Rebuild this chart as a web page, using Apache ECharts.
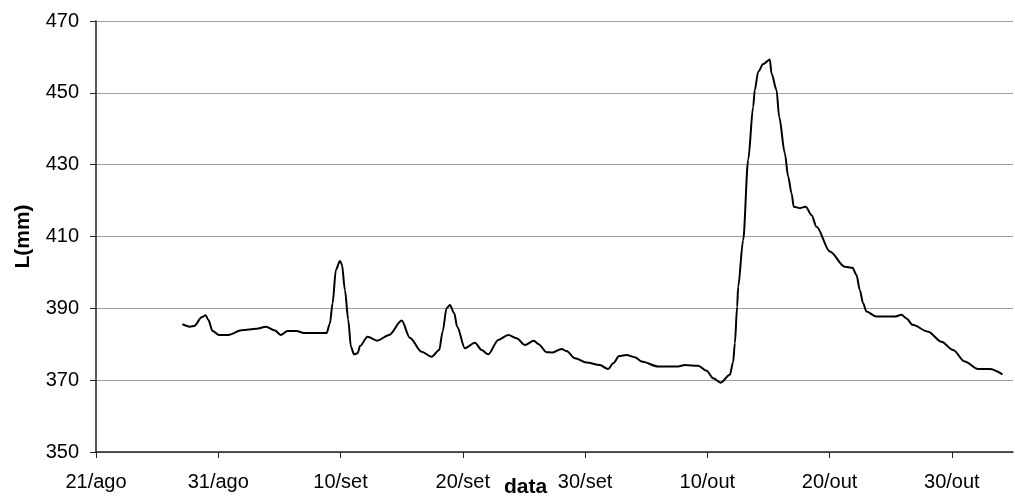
<!DOCTYPE html>
<html>
<head>
<meta charset="utf-8">
<script src="https://cdn.jsdelivr.net/npm/echarts@6/dist/echarts.min.js"></script>
<style>html,body{margin:0;padding:0;background:#fff}#c{width:1015px;height:497px}</style>
</head>
<body>
<div id="c"></div>
<script>
// x: days since 21/ago
const tickLabels = ['21/ago','31/ago','10/set','20/set','30/set','10/out','20/out','30/out'];
const days = [7.06,7.69,8.04,8.64,8.97,9.18,9.54,10.06,10.82,11.91,13.14,13.9,14.64,15.1,15.67,16.41,17.0,18.86,19.13,19.35,19.62,19.95,20.11,20.36,20.63,20.85,21.1,21.4,21.59,22.21,23.0,23.98,25.0,25.67,26.63,27.45,28.07,28.35,28.67,28.95,29.3,29.54,30.17,30.99,31.54,32.08,32.9,33.72,34.4,35.08,35.81,36.17,36.85,37.34,38.08,38.48,39.17,40.12,41.21,41.89,42.3,42.79,43.39,44.07,44.62,45.98,47.61,48.16,49.25,49.94,50.48,51.1,51.84,52.11,52.25,52.44,52.52,52.93,53.34,53.75,53.88,54.16,54.57,55.11,55.25,55.66,55.87,56.34,56.61,56.89,57.07,57.56,58.05,58.52,58.93,60.02,61.24,61.87,62.2,62.47,62.74,63.02,63.83,65.33,65.88,66.29,66.78,68.06,69.15,70.1,71.05,72.14,73.1,74.14];
const levels = [385.6,384.9,385.1,387.5,388.1,386.8,383.7,382.6,382.6,383.9,384.3,384.9,383.8,382.6,383.7,383.7,383.1,383.1,385.8,391.4,400.7,403.2,402.3,395.1,386.8,379.3,377.2,377.5,379.5,382.1,381.0,382.6,386.6,381.8,377.9,376.5,378.4,383.5,390.0,390.9,388.6,384.9,378.9,380.4,378.4,377.2,381.2,382.6,381.7,379.8,381.0,380.1,377.8,377.7,378.7,378.1,376.1,374.9,374.2,373.1,374.7,376.7,377.0,376.4,375.2,373.8,373.8,374.2,374.0,372.6,370.5,369.3,371.5,375.0,380.3,390.5,396.0,409.0,431.3,446.1,450.8,455.9,458.0,459.3,455.4,450.8,443.4,433.2,426.7,422.0,418.3,417.9,418.3,416.0,412.7,405.8,401.6,401.3,399.3,395.1,391.4,389.1,387.7,387.7,388.2,387.2,385.4,383.5,380.7,378.4,375.2,373.1,373.1,371.6];

const seriesData = days.map((d, i) => [d, levels[i]]);
const font = 'Liberation Sans, Arial, sans-serif';
const chart = echarts.init(document.getElementById('c'));
chart.setOption({
  animation: false,
  backgroundColor: '#fff',
  grid: { left: 96, right: 2, top: 21, bottom: 45, containLabel: false, outerBoundsMode: 'none' },
  xAxis: {
    type: 'value', min: 0, max: 75, interval: 10,
    name: 'data', nameLocation: 'middle', nameGap: 25, nameMoveOverlap: false,
    nameTextStyle: { fontFamily: font, fontSize: 21, fontWeight: 'bold', color: '#000', padding: [0, 58, 0, 0] },
    axisLine: { lineStyle: { color: '#222', width: 1.5 } },
    axisTick: { show: true, length: 6, lineStyle: { color: '#222', width: 1 } },
    axisLabel: { fontFamily: font, fontSize: 20, color: '#000', margin: 20,
      formatter: v => tickLabels[Math.round(v / 10)] || '' , showMaxLabel: false},
    splitLine: { show: false }
  },
  yAxis: {
    type: 'value', min: 350, max: 470, interval: 20,
    name: 'L(mm)', nameLocation: 'middle', nameGap: 62, nameRotate: 90, nameMoveOverlap: false,
    nameTextStyle: { fontFamily: font, fontSize: 21, fontWeight: 'bold', color: '#000' },
    axisLine: { show: true, lineStyle: { color: '#222', width: 1.5 } },
    axisTick: { show: true, length: 6, lineStyle: { color: '#222', width: 1 } },
    axisLabel: { fontFamily: font, fontSize: 20, color: '#000', margin: 17 },
    splitLine: { show: true, lineStyle: { color: '#a0a0a0', width: 1.2 } }
  },
  series: [{
    type: 'line', data: seriesData, showSymbol: false, symbol: 'none',
    smooth: 0.3, smoothMonotone: 'x',
    lineStyle: { color: '#000', width: 2 }
  }]
});
</script>
</body>
</html>
